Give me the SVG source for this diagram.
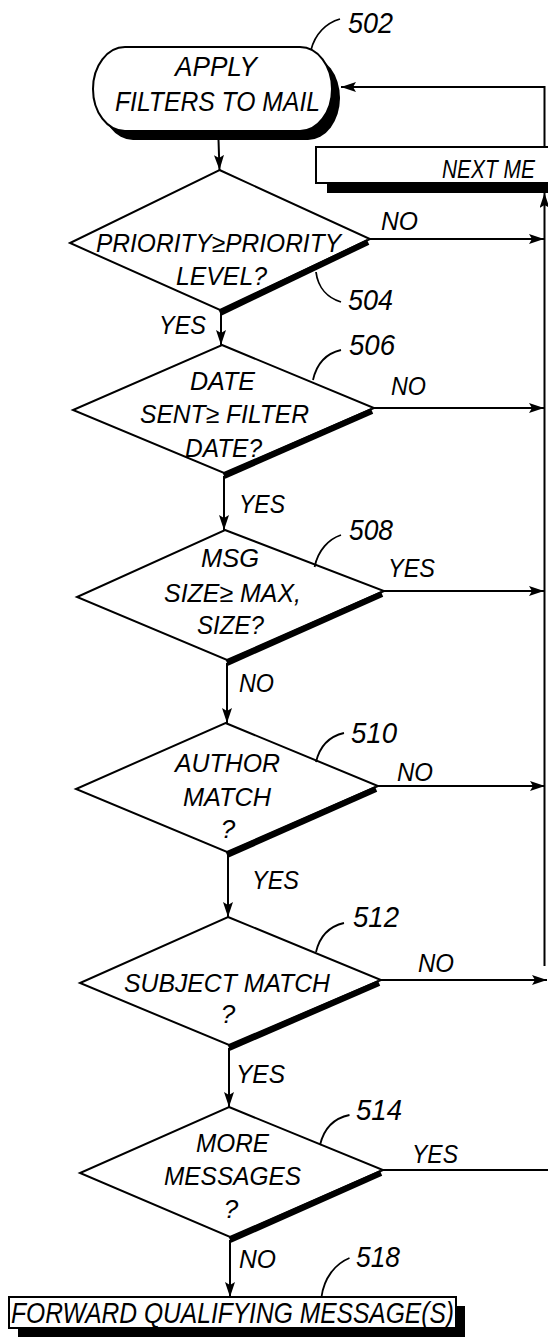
<svg xmlns="http://www.w3.org/2000/svg" width="548" height="1338" viewBox="0 0 548 1338">
<style>
  text { font-family: "Liberation Sans", Arial, sans-serif; font-style: italic; fill: #000; }
  .t { font-size: 26px; }
  .big { font-size: 28px; }
  .num { font-size: 30px; }
  .fw { font-size: 29px; }
  .shape { fill: #fff; stroke: #000; stroke-width: 2; }
  .shadow { fill: #000; stroke: none; }
  .thick { stroke: #000; stroke-width: 6; fill: none; }
  .line { stroke: #000; stroke-width: 2; fill: none; }
  .lead { stroke: #000; stroke-width: 1.8; fill: none; }
</style>
<defs>
  <marker id="arr" viewBox="0 0 15 10" refX="15" refY="5" markerWidth="15" markerHeight="10" markerUnits="userSpaceOnUse" orient="auto">
    <path d="M0,0 L15,5 L0,10 L3,5 Z" fill="#000"/>
  </marker>
</defs>

<g id="connectors">
  <path class="line" d="M218.5,140 L219.5,170" marker-end="url(#arr)"/>
  <path class="line" d="M221,313 V345" marker-end="url(#arr)"/>
  <path class="line" d="M224,476 V530" marker-end="url(#arr)"/>
  <path class="line" d="M227,663 V723" marker-end="url(#arr)"/>
  <path class="line" d="M228,855 V917" marker-end="url(#arr)"/>
  <path class="line" d="M229,1048 V1107" marker-end="url(#arr)"/>
  <path class="line" d="M230,1240 V1297" marker-end="url(#arr)"/>
  <path class="line" d="M370,239 H544" marker-end="url(#arr)"/>
  <path class="line" d="M374,408 H544" marker-end="url(#arr)"/>
  <path class="line" d="M384,591 H544" marker-end="url(#arr)"/>
  <path class="line" d="M378,786 H545" marker-end="url(#arr)"/>
  <path class="line" d="M381,980 H547" marker-end="url(#arr)"/>
  <path class="line" d="M383,1170 H548"/>
  <path class="line" d="M544.5,966 V193" marker-end="url(#arr)"/>
  <path class="line" d="M544.5,147 V87 H341" marker-end="url(#arr)"/>
  <text class="t" x="381" y="230" textLength="37" lengthAdjust="spacingAndGlyphs">NO</text>
  <text class="t" x="159" y="334" textLength="47" lengthAdjust="spacingAndGlyphs">YES</text>
  <text class="t" x="391" y="395" textLength="35" lengthAdjust="spacingAndGlyphs">NO</text>
  <text class="t" x="239" y="513" textLength="46" lengthAdjust="spacingAndGlyphs">YES</text>
  <text class="t" x="388" y="577" textLength="47" lengthAdjust="spacingAndGlyphs">YES</text>
  <text class="t" x="239" y="692" textLength="35" lengthAdjust="spacingAndGlyphs">NO</text>
  <text class="t" x="397" y="781" textLength="36" lengthAdjust="spacingAndGlyphs">NO</text>
  <text class="t" x="252" y="889" textLength="47" lengthAdjust="spacingAndGlyphs">YES</text>
  <text class="t" x="418" y="972" textLength="36" lengthAdjust="spacingAndGlyphs">NO</text>
  <text class="t" x="236" y="1083" textLength="49" lengthAdjust="spacingAndGlyphs">YES</text>
  <text class="t" x="412" y="1163" textLength="46" lengthAdjust="spacingAndGlyphs">YES</text>
  <text class="t" x="239" y="1268" textLength="37" lengthAdjust="spacingAndGlyphs">NO</text>
</g>

<g id="n502">
  <rect class="shadow" x="101" y="56" width="239" height="84" rx="32" ry="42"/>
  <rect class="shape" x="93" y="47" width="239" height="84" rx="32" ry="42"/>
  <text class="big" x="175" y="76" textLength="82" lengthAdjust="spacingAndGlyphs">APPLY</text>
  <text class="big" x="115" y="111" textLength="205" lengthAdjust="spacingAndGlyphs">FILTERS TO MAIL</text>
  <path class="lead" d="M311,50 C315,34 326,23 340,19"/>
  <text class="num" x="348" y="33" textLength="45" lengthAdjust="spacingAndGlyphs">502</text>
</g>

<g id="n516">
  <rect class="shadow" x="327" y="183" width="221" height="10"/>
  <rect x="316" y="147" width="232" height="36" fill="#fff"/>
  <path class="line" d="M548,147 H316 V183 H548"/>
  <text class="t" x="442" y="178" textLength="93" lengthAdjust="spacingAndGlyphs">NEXT ME</text>
</g>

<g id="n504">
  <polygon class="shape" points="219.5,170 370,239 220,310 70,243"/>
  <line class="thick" x1="368" y1="242" x2="220" y2="313"/>
  <text class="t" x="96" y="252" textLength="245" lengthAdjust="spacingAndGlyphs">PRIORITY≥PRIORITY</text>
  <text class="t" x="176" y="285" textLength="91" lengthAdjust="spacingAndGlyphs">LEVEL?</text>
  <path class="lead" d="M316,272 C318,288 328,298 341,302"/>
  <text class="num" x="348" y="310" textLength="45" lengthAdjust="spacingAndGlyphs">504</text>
</g>

<g id="n506">
  <polygon class="shape" points="222,345 374,408 224,473 73,410"/>
  <line class="thick" x1="372" y1="411" x2="224" y2="476"/>
  <text class="t" x="190" y="390" textLength="65" lengthAdjust="spacingAndGlyphs">DATE</text>
  <text class="t" x="140" y="423" textLength="169" lengthAdjust="spacingAndGlyphs">SENT≥ FILTER</text>
  <text class="t" x="185" y="457" textLength="77" lengthAdjust="spacingAndGlyphs">DATE?</text>
  <path class="lead" d="M313,380 C317,362 328,353 341,350"/>
  <text class="num" x="349" y="355" textLength="46" lengthAdjust="spacingAndGlyphs">506</text>
</g>

<g id="n508">
  <polygon class="shape" points="225,530 384,591 227,660 77,597"/>
  <line class="thick" x1="382" y1="594" x2="227" y2="663"/>
  <text class="t" x="201" y="567" textLength="58" lengthAdjust="spacingAndGlyphs">MSG</text>
  <text class="t" x="164" y="602" textLength="137" lengthAdjust="spacingAndGlyphs">SIZE≥ MAX,</text>
  <text class="t" x="197" y="634" textLength="67" lengthAdjust="spacingAndGlyphs">SIZE?</text>
  <path class="lead" d="M314.6,567 C318,550 329,539 341,535"/>
  <text class="num" x="349" y="540" textLength="44" lengthAdjust="spacingAndGlyphs">508</text>
</g>

<g id="n510">
  <polygon class="shape" points="225.5,723 378,786 227,852 76,789"/>
  <line class="thick" x1="376" y1="789" x2="227" y2="855"/>
  <text class="t" x="175" y="772" textLength="105" lengthAdjust="spacingAndGlyphs">AUTHOR</text>
  <text class="t" x="183" y="806" textLength="88" lengthAdjust="spacingAndGlyphs">MATCH</text>
  <text class="t" x="228" y="838" text-anchor="middle">?</text>
  <path class="lead" d="M316,762 C320,745 331,736 344,733"/>
  <text class="num" x="351" y="743" textLength="46" lengthAdjust="spacingAndGlyphs">510</text>
</g>

<g id="n512">
  <polygon class="shape" points="228,917 381,980 229,1045 80,983"/>
  <line class="thick" x1="379" y1="983" x2="229" y2="1048"/>
  <text class="t" x="124" y="992" textLength="206" lengthAdjust="spacingAndGlyphs">SUBJECT MATCH</text>
  <text class="t" x="228" y="1023" text-anchor="middle">?</text>
  <path class="lead" d="M316,952 C320,935 331,926 344,923"/>
  <text class="num" x="353" y="927" textLength="46" lengthAdjust="spacingAndGlyphs">512</text>
</g>

<g id="n514">
  <polygon class="shape" points="229,1107 383,1170 230,1237 80,1173"/>
  <line class="thick" x1="381" y1="1173" x2="230" y2="1240"/>
  <text class="t" x="196" y="1152" textLength="73" lengthAdjust="spacingAndGlyphs">MORE</text>
  <text class="t" x="164" y="1185" textLength="137" lengthAdjust="spacingAndGlyphs">MESSAGES</text>
  <text class="t" x="231" y="1218" text-anchor="middle">?</text>
  <path class="lead" d="M320,1145 C324,1128 335,1118 349.5,1115"/>
  <text class="num" x="356" y="1120" textLength="46" lengthAdjust="spacingAndGlyphs">514</text>
</g>

<g id="n518">
  <rect class="shadow" x="18" y="1306" width="447" height="31"/>
  <rect class="shape" x="9" y="1297" width="447" height="31"/>
  <text class="fw" x="11" y="1323" textLength="443" lengthAdjust="spacingAndGlyphs">FORWARD QUALIFYING MESSAGE(S)</text>
  <path class="lead" d="M321.5,1297 C324,1278 335,1264 349.5,1258"/>
  <text class="num" x="356" y="1267" textLength="44" lengthAdjust="spacingAndGlyphs">518</text>
</g>
</svg>
